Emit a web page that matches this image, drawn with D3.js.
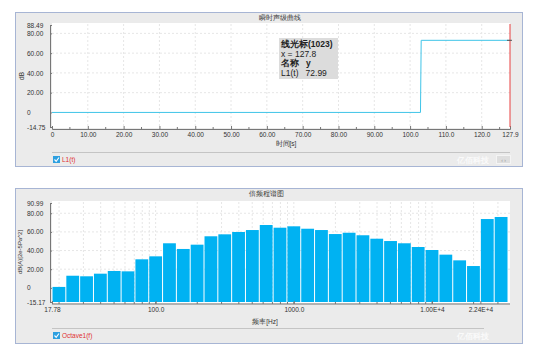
<!DOCTYPE html>
<html><head><meta charset="utf-8">
<script src="https://cdn.jsdelivr.net/npm/d3@7/dist/d3.min.js"></script>
<style>body{margin:0;background:#fff}svg{display:block}text{font-family:"Liberation Sans",Arial,sans-serif}</style>
</head><body>
<script>
// ---------- data ----------
const timeTitle = "瞬时声级曲线";
const timeXLabel = "时间[s]";
const timeYLabel = "dB";
const timeSeriesName = "L1(t)";
const timePoints = [0, 102.9, 103.1, 127.9];
const timeLevels = [0, 0, 72.99, 72.99];
const timeXTicks = [0, 10, 20, 30, 40, 50, 60, 70, 80, 90, 100, 110, 120, 127.9];
const timeXTickLabels = ["0","10.00","20.00","30.00","40.00","50.00","60.00","70.00","80.00","90.00","100.0","110.0","120.0","127.9"];
const timeYDomain = [-14.75, 88.49];
const timeYTicks = [-14.75, 0, 20, 40, 60, 80, 88.49];
const timeYTickLabels = ["-14.75","0","20.00","40.00","60.00","80.00","88.49"];
const cursorX = 127.9;
const tooltipLines = ["线光标(1023)", "x = 127.8", "名称   y", "L1(t)   72.99"];

const octTitle = "倍频程谱图";
const octXLabel = "频率[Hz]";
const octYLabel = "dB(A)[2e-5Pa^2]";
const octSeriesName = "Octave1(f)";
const bandCenters = [20,25,31.5,40,50,63,80,100,125,160,200,250,315,400,500,630,800,1000,1250,1600,2000,2500,3150,4000,5000,6300,8000,10000,12500,16000,20000,25000,31500];
const bandLevels = [1.0,13.0,12.4,15.2,18.1,17.7,30.6,33.8,47.8,41.7,46.3,55.3,57.4,59.9,62.0,67.4,64.5,66.0,63.4,62.0,57.7,59.1,56.4,52.7,50.2,47.8,43.8,40.6,35.6,29.5,23.4,73.8,76.0];
const octXDomain = [17.78, 35480];
const octXTicks = [17.78, 100, 1000, 10000, 22390];
const octXTickLabels = ["17.78","100.0","1000.0","1.00E+4","2.24E+4"];
const octYDomain = [-15.17, 90.99];
const octYTicks = [-15.17, 0, 20, 40, 60, 80, 90.99];
const octYTickLabels = ["-15.17","0","20.00","40.00","60.00","80.00","90.99"];
const watermark = "亿佰科技";

// ---------- drawing ----------
const W = 533, H = 356;
const svg = d3.select("body").append("svg").attr("width", W).attr("height", H);
const FS = 6.5;

function panel(y0, h, title, titleX) {
  svg.append("rect").attr("x", 15.5).attr("y", y0 + 0.5).attr("width", 507).attr("height", h)
    .attr("fill", "#ebebeb").attr("stroke", "#a7b5d4");
  svg.append("text").attr("x", titleX).attr("y", y0 + 7.5).attr("text-anchor", "middle")
    .attr("font-size", 6.5).attr("fill", "#333").text(title);
}

function legend(yLine, name, showNav) {
  svg.append("line").attr("x1", 52).attr("x2", showNav ? 510 : 484).attr("y1", yLine + 0.5).attr("y2", yLine + 0.5)
    .attr("stroke", "#c4c4c4");
  const cy = yLine + 4;
  svg.append("rect").attr("x", 53).attr("y", cy).attr("width", 7).attr("height", 7).attr("fill", "#2ea0e0");
  svg.append("path").attr("d", `M${54.5},${cy + 3.5} L${56.2},${cy + 5.3} L${59},${cy + 1.5}`)
    .attr("fill", "none").attr("stroke", "#fff").attr("stroke-width", 1.1);
  svg.append("text").attr("x", 62).attr("y", cy + 6).attr("font-size", 6.5).attr("fill", "#e03030").text(name);
  svg.append("text").attr("x", 473).attr("y", cy + 7).attr("text-anchor", "middle").attr("font-size", 8)
    .attr("font-family", "Noto Sans CJK SC").attr("font-weight", "bold").attr("fill", "#fafafa").text(watermark);
  if (showNav) {
    svg.append("rect").attr("x", 496.5).attr("y", cy - 0.5).attr("width", 14).attr("height", 8).attr("fill", "#dedede").attr("stroke", "#f4f4f4");
    svg.append("text").attr("x", 503.5).attr("y", cy + 5.5).attr("text-anchor", "middle").attr("font-size", 5).attr("fill", "#999").text("‹ ›");
  }
}

function styleAxis(g) {
  g.select(".domain").attr("stroke", "#777");
  g.selectAll(".tick line").attr("stroke", "#777");
  g.selectAll(".tick text").attr("font-size", FS).attr("fill", "#333").attr("font-family", '"Liberation Sans",Arial,sans-serif');
}

// ===== top chart =====
panel(12, 154, timeTitle, 280);
const tx = d3.scaleLinear().domain([0, 127.9]).range([52, 510]);
const ty = d3.scaleLinear().domain(timeYDomain).range([127, 25]);
svg.append("rect").attr("x", 52).attr("y", 23).attr("width", 458).attr("height", 105).attr("fill", "#fff");
const tg = svg.append("g");
timeXTicks.slice(1, -1).forEach(v => tg.append("line").attr("x1", tx(v)).attr("x2", tx(v)).attr("y1", 24).attr("y2", 128)
  .attr("stroke", "#e6e6e6").attr("stroke-dasharray", "2,2"));
[20, 40, 60, 80].forEach(v => tg.append("line").attr("x1", 52).attr("x2", 510).attr("y1", ty(v)).attr("y2", ty(v))
  .attr("stroke", "#e6e6e6").attr("stroke-dasharray", "2,2"));

const txAxis = svg.append("g").attr("transform", "translate(0,129)")
  .call(d3.axisBottom(tx).tickValues(timeXTicks).tickFormat((d, i) => timeXTickLabels[i]).tickSize(-3).tickPadding(3));
styleAxis(txAxis);
const txMinor = d3.range(5, 127.9, 5).filter(v => v % 10 !== 0);
txAxis.selectAll(".mn").data(txMinor).enter().append("line").attr("x1", d => tx(d)).attr("x2", d => tx(d))
  .attr("y1", 0).attr("y2", -2).attr("stroke", "#777");
const tyAxis = svg.append("g").attr("transform", "translate(50,0)")
  .call(d3.axisLeft(ty).tickValues(timeYTicks).tickFormat((d, i) => timeYTickLabels[i]).tickSize(-2).tickPadding(9));
styleAxis(tyAxis);
tyAxis.selectAll(".tick text").attr("text-anchor", "start").attr("x", -23);

svg.append("text").attr("transform", "translate(24,76) rotate(-90)").attr("text-anchor", "middle")
  .attr("font-size", 6.5).attr("fill", "#333").text(timeYLabel);
svg.append("text").attr("x", 286).attr("y", 146).attr("text-anchor", "middle")
  .attr("font-size", 6.5).attr("fill", "#333").text(timeXLabel);

const line = d3.line().x(d => tx(d[0])).y(d => ty(d[1]));
svg.append("path").datum(timePoints.map((t, i) => [t, timeLevels[i]])).attr("d", line)
  .attr("fill", "none").attr("stroke", "#3fc4e8").attr("stroke-width", 1);
svg.append("line").attr("x1", tx(cursorX)).attr("x2", tx(cursorX)).attr("y1", 24).attr("y2", 127)
  .attr("stroke", "#e84040").attr("stroke-width", 1);
svg.append("line").attr("x1", tx(cursorX) - 3).attr("x2", tx(cursorX) + 2).attr("y1", ty(72.99)).attr("y2", ty(72.99))
  .attr("stroke", "#555").attr("stroke-width", 1);

// tooltip
svg.append("rect").attr("x", 279).attr("y", 38).attr("width", 59).attr("height", 41).attr("fill", "#dcdcdc");
tooltipLines.forEach((s, i) => {
  svg.append("text").attr("x", 281).attr("y", 47 + i * 9.5).attr("font-size", 8.5)
    .attr("font-family", i === 0 || i === 2 ? "Noto Sans CJK SC" : '"Liberation Sans",Arial')
    .attr("font-weight", i === 0 || i === 2 ? "bold" : "normal")
    .attr("fill", "#222").attr("xml:space", "preserve").style("white-space", "pre").text(s);
});
legend(152, timeSeriesName, true);

// ===== bottom chart =====
panel(188, 155, octTitle, 266);
const ox = d3.scaleLog().domain(octXDomain).range([52, 508]);
const oy = d3.scaleLinear().domain(octYDomain).range([302, 203]);
svg.append("rect").attr("x", 52).attr("y", 201).attr("width", 458).attr("height", 102).attr("fill", "#fff");
const minorF = [];
[10, 100, 1000, 10000].forEach(dec => { for (let k = 2; k <= 9; k++) { const f = dec * k; if (f > 17.78 && f < 35480) minorF.push(f); } });
[100, 1000, 10000].forEach(f => minorF.push(f));
minorF.forEach(f => svg.append("line").attr("x1", ox(f)).attr("x2", ox(f)).attr("y1", 202).attr("y2", 302)
  .attr("stroke", "#e6e6e6").attr("stroke-dasharray", "2,2"));
[20, 40, 60, 80].forEach(v => svg.append("line").attr("x1", 52).attr("x2", 510).attr("y1", oy(v)).attr("y2", oy(v))
  .attr("stroke", "#e6e6e6").attr("stroke-dasharray", "2,2"));

const exactC = bandCenters.map(c => Math.pow(10, Math.round(10 * Math.log10(c)) / 10));
const half = Math.pow(10, 0.05);
svg.append("g").selectAll("rect").data(bandLevels).enter().append("rect")
  .attr("x", (d, i) => ox(exactC[i] / half) + 0.5)
  .attr("width", (d, i) => ox(exactC[i] * half) - ox(exactC[i] / half) - 1)
  .attr("y", d => oy(d)).attr("height", d => oy(octYDomain[0]) - oy(d))
  .attr("fill", "#00b2f2");

const oxAxis = svg.append("g").attr("transform", "translate(0,304)")
  .call(d3.axisBottom(ox).tickValues(octXTicks).tickFormat((d, i) => octXTickLabels[i]).tickSize(-3).tickPadding(3));
styleAxis(oxAxis);
oxAxis.select(".domain").attr("d", "M52,0H510");
oxAxis.selectAll(".mn").data(minorF).enter().append("line").attr("x1", d => ox(d)).attr("x2", d => ox(d))
  .attr("y1", 0).attr("y2", -2).attr("stroke", "#777");
const oyAxis = svg.append("g").attr("transform", "translate(50,0)")
  .call(d3.axisLeft(oy).tickValues(octYTicks).tickFormat((d, i) => octYTickLabels[i]).tickSize(-2).tickPadding(9));
styleAxis(oyAxis);
oyAxis.selectAll(".tick text").attr("text-anchor", "start").attr("x", -23);

svg.append("text").attr("transform", "translate(22,252) rotate(-90)").attr("text-anchor", "middle")
  .attr("font-size", 6).attr("fill", "#333").text(octYLabel);
svg.append("text").attr("x", 265).attr("y", 324).attr("text-anchor", "middle")
  .attr("font-size", 6.5).attr("fill", "#333").text(octXLabel);
legend(328, octSeriesName, false);
</script>
</body></html>
